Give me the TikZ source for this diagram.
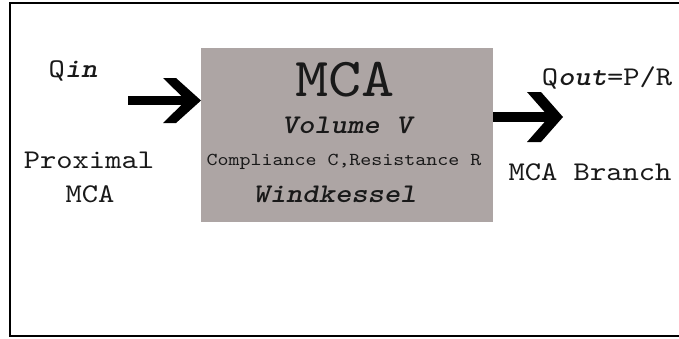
\documentclass[tikz,border=0pt]{standalone}
\usepackage{fontspec}
\newfontfamily\cmono{lmmono10-regular}[Extension=.otf, FakeStretch=1.15]
\newfontfamily\cmonobi{lmmonolt10-boldoblique}[Extension=.otf, FakeStretch=1.15]
\definecolor{boxgray}{RGB}{173,165,164}
\definecolor{ink}{RGB}{25,25,25}
\tikzset{
  lbl/.style={inner sep=0pt, anchor=base, text=ink, font=\cmono\fontsize{27}{27}\selectfont},
  small/.style={lbl, font=\cmono\fontsize{18.2}{18.2}\selectfont},
  big/.style={lbl, font=\cmono\fontsize{55}{55}\selectfont},
  bi/.style={lbl, font=\cmonobi\fontsize{27}{27}\selectfont},
  blockarrow/.style={fill=black, draw=none},
  frame/.style={draw=black, line width=2.6pt}
}
\begin{document}
\begin{tikzpicture}[x=1pt,y=-1pt]
\useasboundingbox (0,0) rectangle (679,338);
\fill[white] (0,0) rectangle (679,338);
\draw[frame] (680,3) -- (10,3) -- (10,336) -- (680,336);
% box
\node[fill=boxgray, draw=none, minimum width=292pt, minimum height=174pt, inner sep=0pt, anchor=north west] (box) at (201,48) {};
\node[big] (mca) at (345,96) {MCA};
\node[bi] (vol) at (347,133) {Volume V};
\node[small] (comp) at (344,165) {Compliance C,Resistance R};
\node[bi] (wk) at (335,202) {Windkessel};
% left labels
\node[lbl] (qin) at (73,77) {Q{\cmonobi in}};
\node[lbl] (prox) at (89,168) {Proximal};
\node[lbl] (pmca) at (90,202) {MCA};
% right labels
\node[lbl] (qout) at (607,85) {Q{\cmonobi out}=P/R};
\node[lbl] (branch) at (590,180) {MCA Branch};
% left arrow
\coordinate (inTip) at (box.west |- 0,100.5);
\fill[blockarrow] (128,96) rectangle (190,105);
\fill[blockarrow] (163,78) -- (176,78) -- (inTip) -- (176,123) -- (163,123) -- (186,100.5) -- cycle;
% right arrow
\coordinate (outStart) at (box.east |- 0,112);
\fill[blockarrow] (outStart) rectangle (552,122);
\fill[blockarrow] (527,92) -- (541,92) -- (563,117) -- (541,142) -- (527,142) -- (549,117) -- cycle;
\end{tikzpicture}
\end{document}
